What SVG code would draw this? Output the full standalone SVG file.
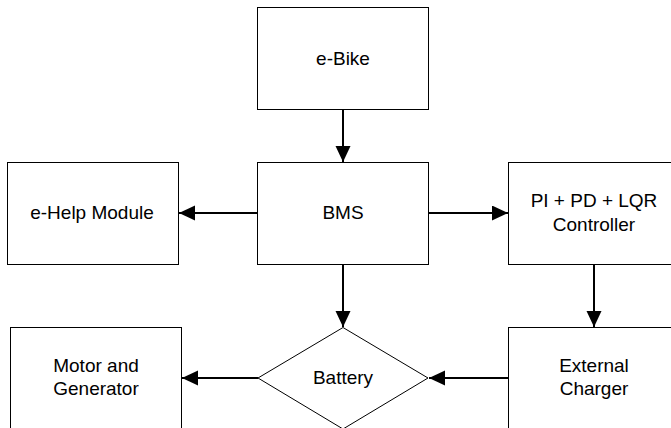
<svg xmlns="http://www.w3.org/2000/svg" width="671" height="428" viewBox="0 0 671 428">
<defs>
<style>
.box{fill:#fff;stroke:#000;stroke-width:1}
.lbl{font-family:"Liberation Sans",Arial,sans-serif;font-size:19px;fill:#000;text-anchor:middle}
.con{stroke:#000;stroke-width:2;fill:none;marker-end:url(#ah)}
</style>
<marker id="ah" markerWidth="17" markerHeight="16" refX="16" refY="7.5" orient="auto" markerUnits="userSpaceOnUse">
<path d="M0,0 L16,7.5 L0,15 Z" fill="#000"/>
</marker>
</defs>
<rect width="671" height="428" fill="#fff"/>
<g id="ebike"><rect class="box" x="257.5" y="7.5" width="171" height="102"/><text class="lbl" x="343" y="65">e-Bike</text></g>
<g id="bms"><rect class="box" x="257.5" y="162.5" width="171" height="102"/><text class="lbl" x="343" y="219">BMS</text></g>
<g id="ehelp"><rect class="box" x="7.5" y="162.5" width="171" height="102"/><text class="lbl" x="92" y="219">e-Help Module</text></g>
<g id="controller"><rect class="box" x="508.5" y="162.5" width="171" height="102"/><text class="lbl" x="594" y="207">PI + PD + LQR</text><text class="lbl" x="594" y="231">Controller</text></g>
<g id="motor"><rect class="box" x="10.5" y="327.5" width="171" height="110"/><text class="lbl" x="96" y="372">Motor and</text><text class="lbl" x="96" y="395">Generator</text></g>
<g id="battery"><polygon class="box" points="343,327.5 428,378 343,429 258,378"/><text class="lbl" x="343" y="384">Battery</text></g>
<g id="charger"><rect class="box" x="508.5" y="327.5" width="171" height="110"/><text class="lbl" x="594" y="372">External</text><text class="lbl" x="594" y="395">Charger</text></g>
<g id="connectors">
<line class="con" x1="343" y1="110" x2="343" y2="162"/>
<line class="con" x1="257" y1="213" x2="179" y2="213"/>
<line class="con" x1="429" y1="213" x2="508" y2="213"/>
<line class="con" x1="343" y1="265" x2="343" y2="327"/>
<line class="con" x1="594" y1="265" x2="594" y2="327"/>
<line class="con" x1="258" y1="378" x2="182" y2="378"/>
<line class="con" x1="508" y1="378" x2="429" y2="378"/>
</g>
</svg>
